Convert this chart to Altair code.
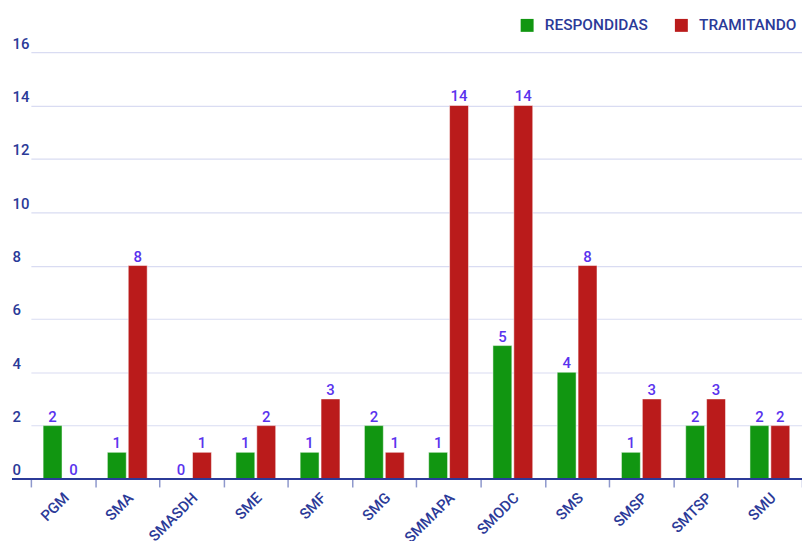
import altair as alt
import pandas as pd

categories = ["PGM", "SMA", "SMASDH", "SME", "SMF", "SMG", "SMMAPA", "SMODC", "SMS", "SMSP", "SMTSP", "SMU"]
respondidas = [2, 1, 0, 1, 1, 2, 1, 5, 4, 1, 2, 2]
tramitando = [0, 8, 1, 2, 3, 1, 14, 14, 8, 3, 3, 2]
series_names = ["RESPONDIDAS", "TRAMITANDO"]
series_colors = ["#119611", "#ba1b1b"]
y_ticks = [0, 2, 4, 6, 8, 10, 12, 14, 16]

rows = []
for c, r, t in zip(categories, respondidas, tramitando):
    rows.append({"cat": c, "serie": series_names[0], "valor": r})
    rows.append({"cat": c, "serie": series_names[1], "valor": t})
df = pd.DataFrame(rows)

W, H = 794, 429
FONT = "Roboto"
AXIS_BLUE = "#2b3a98"
VAL_VIOLET = "#5a33ee"

x_enc = alt.X("cat:N", sort=categories, title=None,
              scale=alt.Scale(range=[19, W], paddingInner=0, paddingOuter=0),
              axis=alt.Axis(labelAngle=-45, labelAlign="right", labelBaseline="middle",
                            labelFont=FONT, labelFontSize=15, labelFontWeight=500,
                            labelColor=AXIS_BLUE, labelPadding=8, labelOffset=3,
                            domain=False, ticks=True, tickBand="extent", tickSize=8,
                            tickColor="#8e98cc", tickWidth=1.5, grid=False))
y_enc = alt.Y("valor:Q", title=None,
              scale=alt.Scale(domain=[0, 16], nice=False),
              axis=alt.Axis(values=y_ticks, labelAlign="left", labelBaseline="alphabetic",
                            labelPadding=0, labelOffset=-4, tickSize=0, ticks=False, domain=False,
                            labelFont=FONT, labelFontSize=15, labelFontWeight=500,
                            labelColor=AXIS_BLUE, grid=True, gridColor="#d9dcf2", gridWidth=1.2))
xo = alt.XOffset("serie:N", sort=series_names,
                 scale=alt.Scale(paddingInner=0, paddingOuter=0.5375))
color = alt.Color("serie:N", sort=series_names, title=None,
                  scale=alt.Scale(domain=series_names, range=series_colors),
                  legend=alt.Legend(orient="none", legendX=510, legendY=-35,
                                    direction="horizontal", symbolType="square",
                                    symbolSize=169, symbolStrokeWidth=0,
                                    labelFont=FONT, labelFontSize=15.5, labelFontWeight=500,
                                    labelColor=AXIS_BLUE, labelOffset=10, columnPadding=25))

base = alt.Chart(df)
bars = base.mark_bar(size=19, stroke="white", strokeWidth=1, strokeOpacity=0.5).encode(
    x=x_enc, y=y_enc, xOffset=xo, color=color)
labels = base.mark_text(baseline="alphabetic", dy=-4, font=FONT, fontSize=15,
                        fontWeight=500, color=VAL_VIOLET).encode(
    x=alt.X("cat:N", sort=categories), y="valor:Q",
    xOffset=alt.XOffset("serie:N", sort=series_names), text="valor:Q")
baseline = alt.Chart(pd.DataFrame({"v": [0]})).mark_rule(color=AXIS_BLUE, strokeWidth=2).encode(
    x=alt.value(0), x2=alt.value(W), y=alt.Y("v:Q"))

chart = alt.layer(bars, labels, baseline).properties(
    width=W, height=H,
    autosize=alt.AutoSizeParams(type="none"),
    padding={"left": 4, "top": 43, "right": 0, "bottom": 61},
).configure_view(stroke=None)

chart.save("out.html", embed_options={"renderer": "svg", "actions": False})
